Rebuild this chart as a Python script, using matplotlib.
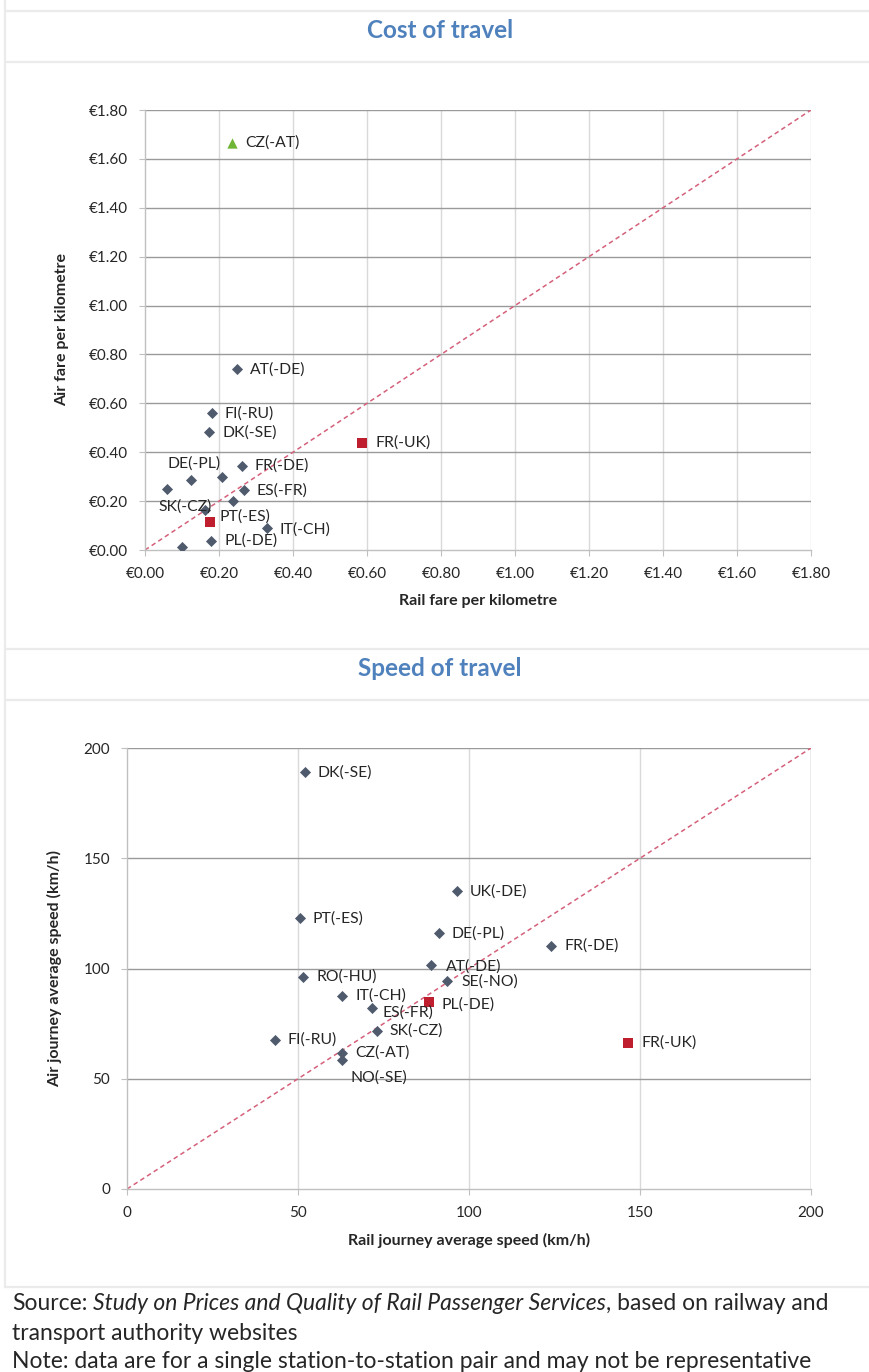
import numpy as np
import matplotlib
matplotlib.use("Agg")
import matplotlib.pyplot as plt
from matplotlib.lines import Line2D

plt.rcParams['font.family'] = ['Lato', 'DejaVu Sans']

# ---- data: cost of travel (rail fare, air fare per km, EUR)
cost_names = ["AT(-DE)", "FI(-RU)", "DK(-SE)", "FR(-DE)", "DE(-PL)", "", "", "ES(-FR)",
              "", "SK(-CZ)", "IT(-CH)", "PL(-DE)", ""]
cost_rail = [0.249, 0.180, 0.174, 0.262, 0.124, 0.208, 0.059, 0.268, 0.237, 0.162, 0.329, 0.179, 0.099]
cost_air = [0.740, 0.559, 0.481, 0.345, 0.286, 0.297, 0.250, 0.245, 0.200, 0.164, 0.091, 0.037, 0.014]
cost_red_names = ["FR(-UK)", "PT(-ES)"]
cost_red_rail = [0.587, 0.177]
cost_red_air = [0.439, 0.116]
cost_green_names = ["CZ(-AT)"]
cost_green_rail = [0.235]
cost_green_air = [1.665]
cost_ticks = [0.0, 0.2, 0.4, 0.6, 0.8, 1.0, 1.2, 1.4, 1.6, 1.8]

# ---- data: speed of travel (km/h)
speed_names = ["DK(-SE)", "UK(-DE)", "PT(-ES)", "DE(-PL)", "FR(-DE)", "AT(-DE)", "RO(-HU)",
               "SE(-NO)", "IT(-CH)", "ES(-FR)", "SK(-CZ)", "FI(-RU)", "CZ(-AT)", "NO(-SE)"]
speed_rail = [52.0, 96.4, 50.5, 91.2, 124.0, 88.9, 51.6, 93.6, 62.9, 71.6, 73.0, 43.2, 62.9, 62.9]
speed_air = [189.0, 135.1, 122.8, 116.0, 110.3, 101.6, 96.3, 94.5, 87.7, 82.0, 71.8, 67.6, 61.8, 58.5]
speed_red_names = ["PL(-DE)", "FR(-UK)"]
speed_red_rail = [88.4, 146.5]
speed_red_air = [84.7, 66.2]
speed_ticks = [0, 50, 100, 150, 200]

# label offsets in pixels (dx right, dy down) where not the default
cost_off = {"DE(-PL)": (-23, -17), "SK(-CZ)": (-46, -3), "PT(-ES)": (9, -5), "IT(-CH)": (13, 2),
            "ES(-FR)": (12, 0)}
speed_off = {"AT(-DE)": (15, 2), "ES(-FR)": (11, 4), "NO(-SE)": (8, 18), "PL(-DE)": (12, 2),
             "SE(-NO)": (14, 1)}

W, H = 870, 1372
fig = plt.figure(figsize=(W / 100, H / 100), dpi=100)
fig.patch.set_facecolor("white")

DIAMOND = "#4f5b6d"
RED = "#be1e2d"
GREEN = "#6fb536"
DIAG = "#d4607a"
TXT = "#262626"
HGRID = "#9a9a9a"
VGRID = "#d9d9d9"


def px_axes(l, t, r, b):
    return fig.add_axes([l / W, 1 - b / H, (r - l) / W, (b - t) / H])


def label_points(ax, names, xs, ys, offs):
    for n, x, y in zip(names, xs, ys):
        if not n:
            continue
        dx, dy = offs.get(n, (13, 0))
        ax.annotate(n, (x, y), xytext=(dx * 0.72, -dy * 0.72), textcoords="offset points",
                    ha="left", va="center", fontsize=11.3, color=TXT, annotation_clip=False)


def style_axes(ax, ticks, fmt):
    ax.set_xlim(ticks[0], ticks[-1])
    ax.set_ylim(ticks[0], ticks[-1])
    ax.set_xticks(ticks)
    ax.set_yticks(ticks)
    ax.set_xticklabels([fmt(t) for t in ticks])
    ax.set_yticklabels([fmt(t) for t in ticks])
    for t in ticks[1:]:
        ax.axhline(t, color=HGRID, lw=1.0, zorder=1)
    for t in ticks[1:]:
        ax.axvline(t, color=VGRID, lw=1.0, zorder=0.9)
    for s in ["top", "right"]:
        ax.spines[s].set_visible(False)
    for s in ["left", "bottom"]:
        ax.spines[s].set_color("#c0c0c0")
        ax.spines[s].set_linewidth(1.0)
    ax.tick_params(length=4, color="#c0c0c0", labelsize=11, labelcolor=TXT, pad=8)
    ax.plot([ticks[0], ticks[-1]], [ticks[0], ticks[-1]], color=DIAG, lw=1.1,
            dashes=(3, 2.2), zorder=2)


# ---- top chart
ax1 = px_axes(145, 110, 811, 550)
style_axes(ax1, cost_ticks, lambda v: "€%.2f" % v)
ax1.scatter(cost_rail, cost_air, marker="D", s=32, color=DIAMOND, zorder=3, linewidths=0)
ax1.scatter(cost_red_rail, cost_red_air, marker="s", s=48, color=RED, zorder=3, linewidths=0)
ax1.scatter(cost_green_rail, cost_green_air, marker="^", s=55, color=GREEN, zorder=3, linewidths=0)
label_points(ax1, cost_names, cost_rail, cost_air, cost_off)
label_points(ax1, cost_red_names, cost_red_rail, cost_red_air, cost_off)
label_points(ax1, cost_green_names, cost_green_rail, cost_green_air, cost_off)
ax1.set_xlabel("Rail fare per kilometre", fontsize=11.5, fontweight="bold", color=TXT)
ax1.set_ylabel("Air fare per kilometre", fontsize=11.5, fontweight="bold", color=TXT)
ax1.xaxis.set_label_coords(0.5, (550 - 601) / 440)
ax1.yaxis.set_label_coords((62 - 145) / 666, 0.5)
ax1.xaxis.label.set_va("center")
ax1.yaxis.label.set_va("center")

# ---- bottom chart
ax2 = px_axes(127, 748, 811, 1189)
style_axes(ax2, speed_ticks, lambda v: "%d" % v)
ax2.axvline(speed_ticks[-1], color="#bdbdbd", lw=1.0, zorder=1)
ax2.scatter(speed_rail, speed_air, marker="D", s=32, color=DIAMOND, zorder=3, linewidths=0)
ax2.scatter(speed_red_rail, speed_red_air, marker="s", s=48, color=RED, zorder=3, linewidths=0)
label_points(ax2, speed_names, speed_rail, speed_air, speed_off)
label_points(ax2, speed_red_names, speed_red_rail, speed_red_air, speed_off)
ax2.set_xlabel("Rail journey average speed (km/h)", fontsize=11.5, fontweight="bold", color=TXT)
ax2.set_ylabel("Air journey average speed (km/h)", fontsize=11.5, fontweight="bold", color=TXT)
ax2.xaxis.set_label_coords(0.5, (1189 - 1240) / 441)
ax2.yaxis.set_label_coords((55 - 127) / 684, 0.5)
ax2.xaxis.label.set_va("center")
ax2.yaxis.label.set_va("center")

# ---- frame lines and titles
for y in [11, 62, 649, 700, 1287]:
    fig.add_artist(Line2D([5 / W, 1], [1 - y / H] * 2, color="#ebebeb", lw=1.6))
fig.add_artist(Line2D([5 / W] * 2, [1, 1 - 1287 / H], color="#ebebeb", lw=1.6))

fig.text(440 / W, 1 - 30 / H, "Cost of travel", ha="center", va="center",
         fontsize=17.5, fontweight="bold", color="#4f81bd")
fig.text(440 / W, 1 - 668 / H, "Speed of travel", ha="center", va="center",
         fontsize=17.5, fontweight="bold", color="#4f81bd")

# ---- source note with italic title
renderer = fig.canvas.get_renderer()
FS = 16.5


def width_of(s, style="normal"):
    t = fig.text(0, 0, s, fontsize=FS, style=style)
    w = t.get_window_extent(renderer).width
    t.remove()
    return w


space = width_of("a a") - width_of("aa")
x = 12
y1 = 1 - 1303 / H
pieces = [("Source:", "normal"), ("Study on Prices and Quality of Rail Passenger Services", "italic"),
          (", based on railway and", "normal")]
for i, (s, st) in enumerate(pieces):
    fig.text(x / W, y1, s, fontsize=FS, style=st, color=TXT, ha="left", va="center")
    x += width_of(s, st)
    if i == 0:
        x += space
fig.text(12 / W, 1 - 1334 / H, "transport authority websites", fontsize=FS, color=TXT, ha="left", va="center")
fig.text(12 / W, 1 - 1362 / H, "Note: data are for a single station-to-station pair and may not be representative",
         fontsize=FS, color=TXT, ha="left", va="center")

fig.savefig("out.png", dpi=100)
